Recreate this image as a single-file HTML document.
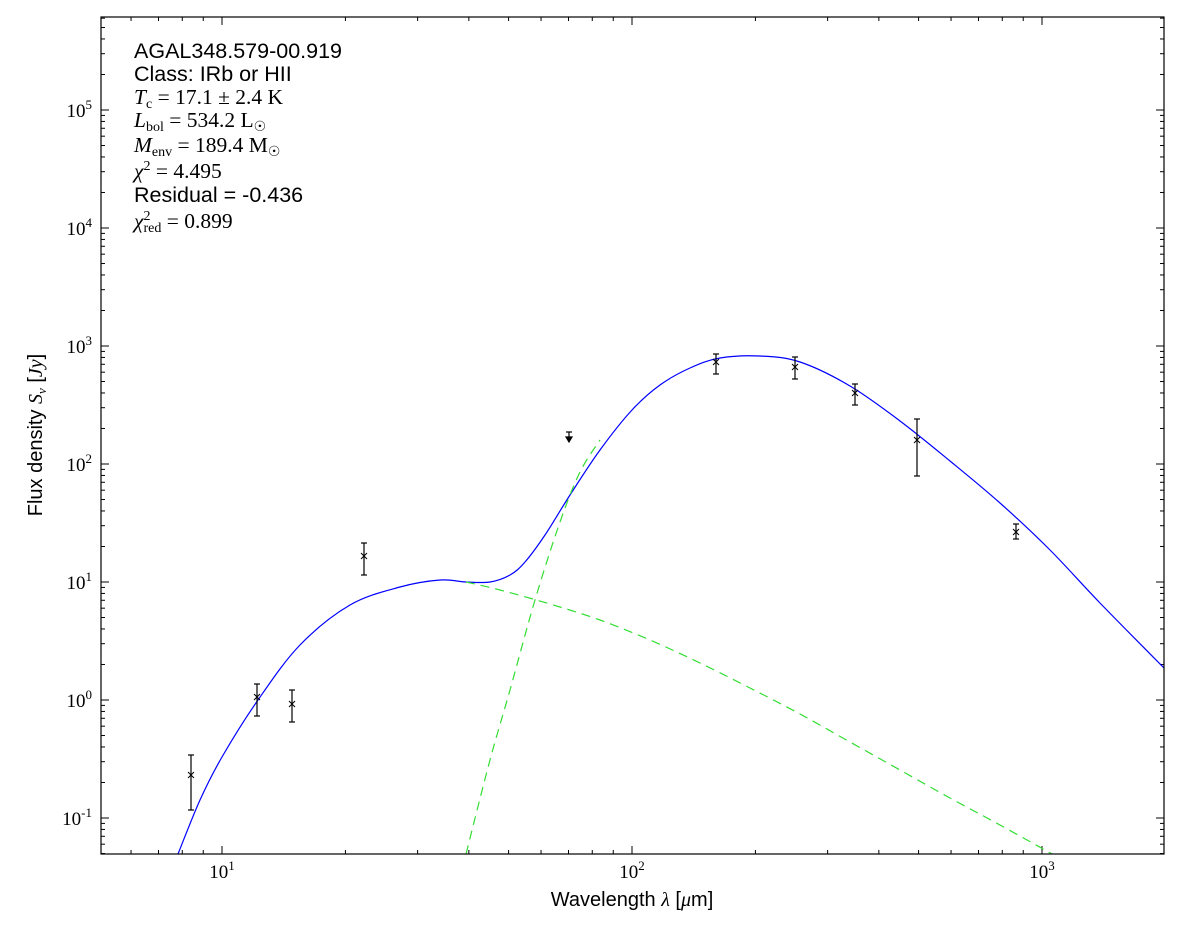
<!DOCTYPE html>
<html><head><meta charset="utf-8"><style>
body{margin:0;background:#fff;}
svg text{font-family:"Liberation Sans",sans-serif;}
.s{font-family:"Liberation Serif",serif;}
</style></head><body>
<svg id="c" width="1200" height="933" xmlns="http://www.w3.org/2000/svg">
<rect width="1200" height="933" fill="#fff"/>
<g id="ticks" stroke="#000" stroke-width="1"></g>
<g id="labels"></g>
<path id="blue" fill="none" stroke="#0000ff" stroke-width="1.2"/>
<path id="g1" fill="none" stroke="#33dd33" stroke-width="1.2" stroke-dasharray="9,6"/>
<path id="g2" fill="none" stroke="#33dd33" stroke-width="1.2" stroke-dasharray="9,6"/>
<g id="pts" stroke="#000" stroke-width="1.2" fill="none"></g>
<rect x="101" y="17" width="1063" height="837" fill="none" stroke="#000" stroke-width="1.2"/>
<g font-size="21.5">
<text x="134" y="58">AGAL348.579-00.919</text>
<text x="134" y="81">Class: IRb or HII</text>
<text x="134" y="104" class="s"><tspan font-style="italic">T</tspan><tspan font-size="14" dy="4">c</tspan><tspan dy="-4"> = 17.1 ± 2.4 K</tspan></text>
<text x="134" y="127" class="s"><tspan font-style="italic">L</tspan><tspan font-size="14" dy="4">bol</tspan><tspan dy="-4"> = 534.2 L</tspan><tspan font-size="14" dy="4">☉</tspan></text>
<text x="134" y="152" class="s"><tspan font-style="italic">M</tspan><tspan font-size="14" dy="4">env</tspan><tspan dy="-4"> = 189.4 M</tspan><tspan font-size="14" dy="4">☉</tspan></text>
<text x="134" y="178" class="s"><tspan font-style="italic">χ</tspan><tspan font-size="14" dy="-8">2</tspan><tspan dy="8"> = 4.495</tspan></text>
<text x="134" y="202">Residual = -0.436</text>
<text x="134" y="228" class="s"><tspan font-style="italic">χ</tspan><tspan font-size="14" dy="-8">2</tspan><tspan font-size="14" dx="-7" dy="12">red</tspan><tspan dy="-4"> = 0.899</tspan></text>
</g>
<text x="632" y="906" font-size="20" text-anchor="middle">Wavelength <tspan class="s" font-style="italic">λ</tspan> [<tspan class="s" font-style="italic">μ</tspan>m]</text>
<text transform="translate(42,435) rotate(-90)" font-size="20" text-anchor="middle">Flux density <tspan class="s" font-style="italic">S</tspan><tspan class="s" font-style="italic" font-size="13" dy="4">ν</tspan><tspan dy="-4"> [</tspan><tspan class="s" font-style="italic">Jy</tspan>]</text>
</svg>
<script>
var NS="http://www.w3.org/2000/svg";
function el(p,t,a,txt){var e=document.createElementNS(NS,t);for(var k in a)e.setAttribute(k,a[k]);if(txt)e.textContent=txt;p.appendChild(e);return e;}
var L=101,R=1164,T=17,B=854;
function X(l){return 222+(Math.log10(l)-1)*410;}
function Y(f){return 700-Math.log10(f)*118;}
var tk=document.getElementById('ticks'),lb=document.getElementById('labels');
for(var d=0;d<=3;d++)for(var m=1;m<10;m++){var v=m*Math.pow(10,d);var x=X(v);if(x<L||x>R)continue;var len=m==1?8:4;
el(tk,'line',{x1:x,x2:x,y1:B,y2:B-len});el(tk,'line',{x1:x,x2:x,y1:T,y2:T+len});
if(m==1){var t=el(lb,'text',{x:x,y:878,'font-size':19,'text-anchor':'middle','class':'s'},'10');el(t,'tspan',{dy:-8,'font-size':13},''+d);}}
for(var d=-2;d<=5;d++)for(var m=1;m<10;m++){var v=m*Math.pow(10,d);var y=Y(v);if(y<T||y>B)continue;var len=m==1?8:4;
el(tk,'line',{x1:L,x2:L+len,y1:y,y2:y});el(tk,'line',{x1:R,x2:R-len,y1:y,y2:y});
if(m==1){var t=el(lb,'text',{x:92,y:y+7,'font-size':19,'text-anchor':'end','class':'s'},'10');el(t,'tspan',{dy:-8,'font-size':13},''+d);}}
function cr(p){var s='M'+p[0][0]+','+p[0][1];for(var i=0;i<p.length-1;i++){var p0=p[Math.max(0,i-1)],p1=p[i],p2=p[i+1],p3=p[Math.min(p.length-1,i+2)];
s+=' C'+(p1[0]+(p2[0]-p0[0])/6)+','+(p1[1]+(p2[1]-p0[1])/6)+' '+(p2[0]-(p3[0]-p1[0])/6)+','+(p2[1]-(p3[1]-p1[1])/6)+' '+p2[0]+','+p2[1];}return s;}
document.getElementById('blue').setAttribute('d',cr([[178,854],[200,800],[222,757],[258,700],[300,645],[350,605],[400,587],[440,580],[466,582],[490,582],[510,575],[525,562],[545,535],[570,495],[600,450],[632,410],[660,385],[690,368],[720,358],[760,356],[800,362],[850,386],[900,421],[950,461],[1000,503],[1050,550],[1100,603],[1164,668]]));
document.getElementById('g1').setAttribute('d',cr([[466,854],[490,760],[510,690],[535,600],[560,522],[580,472],[600,440]]));
document.getElementById('g2').setAttribute('d',cr([[466,582],[500,590],[550,604],[600,620],[650,640],[700,663],[750,688],[800,714],[850,742],[900,770],[950,798],[1000,825],[1052,854]]));
var pg=document.getElementById('pts');
[[191,775,755,810],[257,697,684,716],[292,704,690,722],[364,556,543,575],[716,362,354,374],[795,367,357,379],[855,393,384,405],[917,440,419,476],[1016,532,524,539]].forEach(function(p){
el(pg,'line',{x1:p[0],x2:p[0],y1:p[2],y2:p[3]});el(pg,'line',{x1:p[0]-3,x2:p[0]+3,y1:p[2],y2:p[2]});el(pg,'line',{x1:p[0]-3,x2:p[0]+3,y1:p[3],y2:p[3]});
el(pg,'path',{d:'M'+(p[0]-3)+','+(p[1]-3)+'l6,6M'+(p[0]-3)+','+(p[1]+3)+'l6,-6','stroke-width':1});});
el(pg,'line',{x1:569,x2:569,y1:432,y2:441});el(pg,'line',{x1:566,x2:572,y1:432,y2:432});
el(pg,'path',{d:'M566,437 L572,437 L569,442 Z',fill:'#000'});
</script>
</body></html>
